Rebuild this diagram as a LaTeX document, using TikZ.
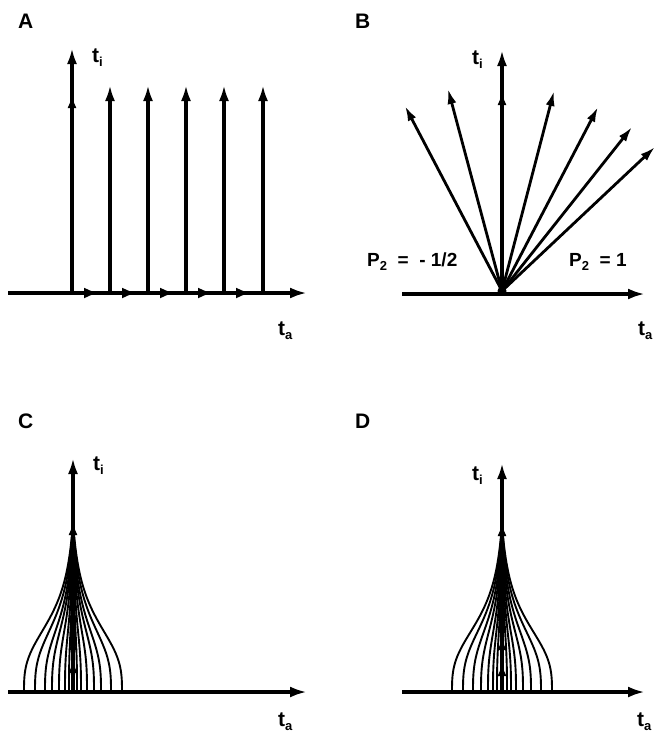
\documentclass[tikz,border=0pt]{standalone}
\usepackage{fontspec}
\setmainfont{Liberation Sans}
\usetikzlibrary{arrows.meta,decorations.markings}
\tikzset{
  axis/.style={line width=4.5pt, -{Latex[length=17pt,width=11pt]}},
  vec/.style={line width=3.6pt, -{Latex[length=16pt,width=10pt]}},
  ray/.style={line width=2.8pt, -{Latex[length=15pt,width=9pt]}},
  curve/.style={line width=1.9pt},
  lbl/.style={anchor=base west, inner sep=0pt, font=\bfseries\fontsize{21}{24}\selectfont},
  plbl/.style={anchor=base west, inner sep=0pt, font=\bfseries\fontsize{19}{22}\selectfont},
  midarrow/.style={postaction={decorate, decoration={markings,
     mark=at position #1 with {\arrow{Latex[length=13pt,width=9pt]}}}}},
  axmid/.style={postaction={decorate, decoration={markings,
     mark=at position #1 with {\arrow{Latex[length=15pt,width=11pt]}}}}},
}
\newcommand\subl[1]{\raisebox{-4pt}{\fontsize{13}{13}\selectfont #1}}
\newcommand\bellcurve[4]{% x0, w, top, base
  \draw[curve] plot[domain=0:1,samples=80] ({#1-#2*(1/(1+(\x/0.44)^3)-0.08)/0.92}, {#4-(#4-#3)*\x});
  \draw[curve] plot[domain=0:1,samples=80] ({#1+#2*(1/(1+(\x/0.44)^3)-0.08)/0.92}, {#4-(#4-#3)*\x});
}
\begin{document}
\begin{tikzpicture}[x=1pt,y=-1pt]
\useasboundingbox (0,0) rectangle (657,736);
% ---------- Panel A ----------
\node[lbl] (labA) at (18,28) {A};
\coordinate (a0) at (8,293);
\coordinate (a1) at (307,293);
\foreach \i/\x in {1/110,2/148,3/186,4/224,5/263}{
  \coordinate (av\i b) at (\x,293);
  \coordinate (av\i t) at (\x,85);
  \draw[vec] (av\i b) -- (av\i t);
}
\coordinate (av0b) at (72,293);
\coordinate (av0t) at (72,48);
\draw[vec, midarrow=198pt] (av0b) -- (av0t);
\draw[axis, axmid=91pt, axmid=129pt, axmid=167pt, axmid=205pt, axmid=243pt] (a0) -- (a1);
\node[lbl] (tiA) at (92,62) {t\subl{i}};
\node[lbl] (taA) at (278,335) {t\subl{a}};
% ---------- Panel B ----------
\node[lbl] (labB) at (355,28) {B};
\coordinate (O) at (502,291);
\foreach \i/\px/\py in {1/405/106,2/448/89,3/554/91,4/598/107,5/632/127,6/655/147}{
  \coordinate (b\i) at (\px,\py);
  \draw[ray] (O) -- (b\i);
}
\coordinate (bv0) at (502,294);
\coordinate (bvt) at (502,50);
\draw[vec, midarrow=202pt] (bv0) -- (bvt);
\coordinate (b0) at (402,294);
\coordinate (bend) at (645,294);
\draw[axis] (b0) -- (bend);
\fill (O) circle (4.5pt);
\node[lbl] (tiB) at (472,64) {t\subl{i}};
\node[lbl] (taB) at (638,335) {t\subl{a}};
\node[plbl] (p1) at (367,266) {P\subl{2}\ \ =\ \ -\ 1/2};
\node[plbl] (p2) at (569,266) {P\subl{2}\ \ = 1};
% ---------- Panel C ----------
\node[lbl] (labC) at (18,428) {C};
\foreach \w in {4,8,14,21,28,38,49}{\bellcurve{73}{\w}{520}{692}}
\coordinate (c0) at (8,692);
\coordinate (c1) at (307,692);
\coordinate (cvb) at (73,692);
\coordinate (cvt) at (73,458);
\draw[vec, midarrow=32pt, midarrow=55pt, midarrow=85pt, midarrow=114pt, midarrow=142pt, midarrow=170pt] (cvb) -- (cvt);
\draw[axis] (c0) -- (c1);
\node[lbl] (tiC) at (93,470) {t\subl{i}};
\node[lbl] (taC) at (278,726) {t\subl{a}};
% ---------- Panel D ----------
\node[lbl] (labD) at (355,428) {D};
\foreach \w in {5,9,14,21,29,39,50}{\bellcurve{502}{\w}{522}{692}}
\coordinate (d0) at (402,692);
\coordinate (d1) at (645,692);
\coordinate (dvb) at (502,692);
\coordinate (dvt) at (502,463);
\draw[vec, midarrow=29pt, midarrow=55pt, midarrow=84pt, midarrow=114pt, midarrow=142pt, midarrow=169pt] (dvb) -- (dvt);
\draw[axis] (d0) -- (d1);
\node[lbl] (tiD) at (472,480) {t\subl{i}};
\node[lbl] (taD) at (637,726) {t\subl{a}};
\end{tikzpicture}
\end{document}
